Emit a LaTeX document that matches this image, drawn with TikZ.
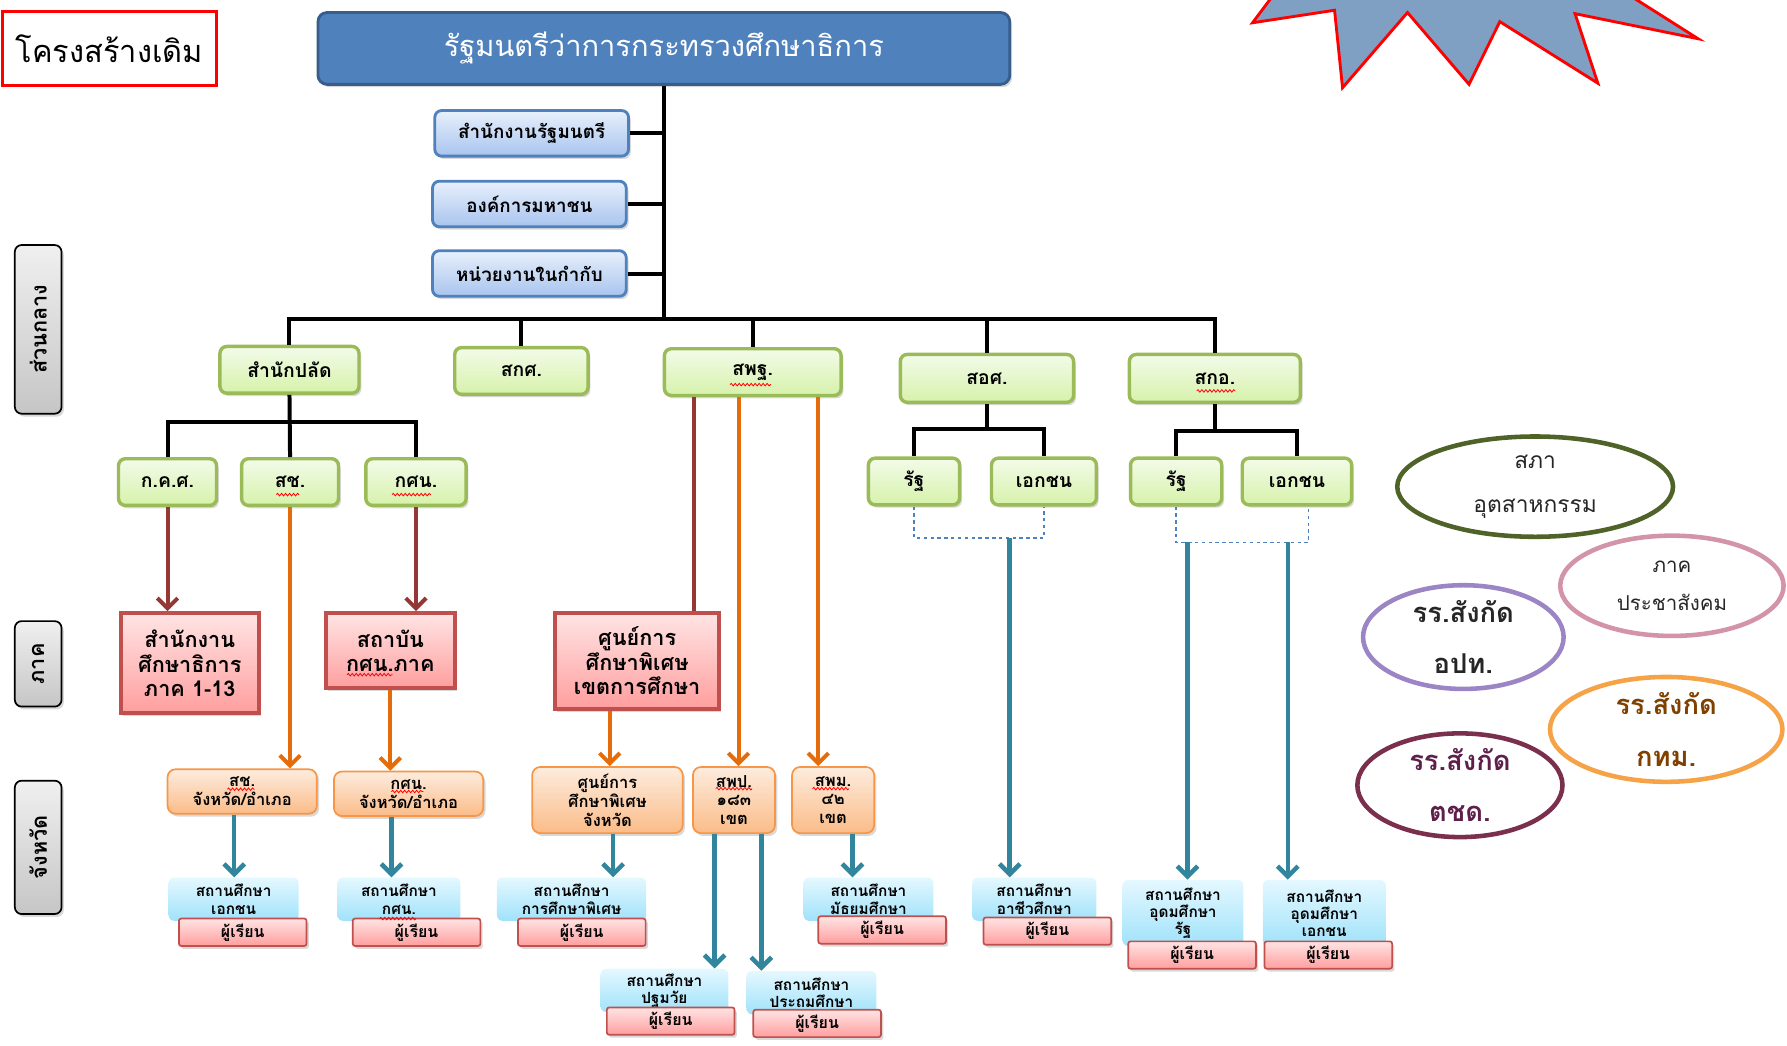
\documentclass[tikz,border=0pt]{standalone}
\usepackage{fontspec}
\setmainfont[Script=Thai]{Loma}
\usepackage{tikz}
\definecolor{boardblue}{RGB}{79,129,189}
\definecolor{boardedge}{RGB}{56,93,138}
\definecolor{paleblue}{RGB}{232,240,252}
\definecolor{midblue}{RGB}{168,196,238}
\definecolor{leafgreen}{RGB}{155,187,89}
\definecolor{leaftop}{RGB}{243,251,233}
\definecolor{leafbot}{RGB}{214,242,170}
\definecolor{brickred}{RGB}{192,80,77}
\definecolor{rosetop}{RGB}{255,228,228}
\definecolor{rosebot}{RGB}{255,158,158}
\definecolor{peachedge}{RGB}{247,150,70}
\definecolor{peachtop}{RGB}{253,236,222}
\definecolor{peachbot}{RGB}{251,188,136}
\definecolor{skytop}{RGB}{228,248,255}
\definecolor{skybot}{RGB}{160,226,250}
\definecolor{wine}{RGB}{149,55,53}
\definecolor{carrot}{RGB}{228,108,10}
\definecolor{petrol}{RGB}{49,133,156}
\definecolor{mossgreen}{RGB}{79,98,40}
\definecolor{mauve}{RGB}{211,148,168}
\definecolor{lilac}{RGB}{156,133,196}
\definecolor{apricot}{RGB}{246,163,72}
\definecolor{plum}{RGB}{122,47,76}
\definecolor{plumtext}{RGB}{94,31,75}
\definecolor{rusty}{RGB}{127,64,0}
\definecolor{starblue}{RGB}{127,159,195}
\usetikzlibrary{arrows.meta,shapes.geometric,shadows,decorations.pathmorphing}

\begin{document}
\begin{tikzpicture}[x=1pt, y=-1pt,
    >={Straight Barb[length=9pt,width=18pt]},   %Pfeilspitzen
    boxshadow/.style={drop shadow={opacity=.3,shadow xshift=2pt,shadow yshift=-2.5pt}},
    titlebox/.style={draw=red, line width=2.5pt, minimum width=188, minimum height=65, font=\fontsize{27}{29}\selectfont},
    chief/.style={boxshadow, draw=boardedge, line width=2.5pt, fill=boardblue, rounded corners=8pt, text=white, minimum width=607, minimum height=63, font=\fontsize{25.5}{27}\selectfont},
    bluebox/.style={boxshadow, draw=boardblue, line width=2.5pt, top color=paleblue, bottom color=midblue, rounded corners=6pt, minimum width=170, minimum height=40, font=\bfseries\fontsize{16.5}{18}\selectfont},
    greenbox/.style={boxshadow, draw=leafgreen, line width=3pt, top color=leaftop, bottom color=leafbot, rounded corners=6pt, minimum height=41, font=\bfseries\fontsize{17}{19}\selectfont},
    redbox/.style={boxshadow, draw=brickred, line width=3.5pt, top color=rosetop, bottom color=rosebot, align=center, font=\bfseries\fontsize{19}{21.5}\selectfont},
    orangebox/.style={boxshadow, draw=peachedge, line width=1.5pt, top color=peachtop, bottom color=peachbot, rounded corners=7pt, align=center, inner sep=0pt, font=\bfseries\fontsize{14.5}{16.5}\selectfont},
    schoolbox/.style={top color=skytop, bottom color=skybot, rounded corners=5pt, align=center, inner sep=0pt, font=\bfseries\fontsize{13.5}{15}\selectfont},
    learner/.style={boxshadow, draw=brickred, line width=1.5pt, top color=rosetop, bottom color=rosebot, rounded corners=2pt, minimum width=112, minimum height=24, inner sep=0pt, font=\bfseries\fontsize{14}{15}\selectfont},
    sidebox/.style={boxshadow, draw=black, line width=1.5pt, top color=gray!12, bottom color=gray!45, rounded corners=6pt, rotate=90, minimum height=41, font=\bfseries\fontsize{19}{20}\selectfont},
    oval/.style={ellipse, line width=4pt, align=center, inner sep=0pt, text=black!85},
    orgline/.style={line width=3.5pt},
    redarrow/.style={->, wine, line width=3.5pt},
    redline/.style={wine, line width=3.5pt},
    orangearrow/.style={->, carrot, line width=3.5pt},
    tealarrow/.style={->, petrol, line width=4pt},
    dashlink/.style={dashed, boardblue, line width=1.2pt},
    spellwave/.style={red, line width=.7pt, decorate, decoration={snake, amplitude=1.1pt, segment length=3.5pt}}]
  %Bildbereich
  \useasboundingbox (0,0) rectangle (1568,917);
  %Stern oben rechts
  \fill[starblue] (1117,-4) -- (1099,20) -- (1171,9) -- (1178,77) -- (1235,11) -- (1289,74) -- (1316,19) -- (1402,73) -- (1382,12) -- (1490,34) -- (1430,-4) -- cycle;
  \draw[red, line width=2.5pt] (1117,-4) -- (1099,20) -- (1171,9) -- (1178,77) -- (1235,11) -- (1289,74) -- (1316,19) -- (1402,73) -- (1382,12) -- (1490,34) -- (1430,-4);
  %Titel und Minister
  \node[titlebox] (title) at (96,42.5) {โครงสร้างเดิม};
  \node[chief] (minister) at (582.5,42.5) {รัฐมนตรีว่าการกระทรวงศึกษาธิการ};
  \node[bluebox] (office) at (466.5,117) {สำนักงานรัฐมนตรี};
  \node[bluebox] (publicorg) at (464.5,179) {องค์การมหาชน};
  \node[bluebox] (supervised) at (464.5,240) {หน่วยงานในกำกับ};
  \coordinate (bar) at (582.5,280);
  \draw[orgline] (minister.south) -- (bar);
  \foreach \n in {office,publicorg,supervised} \draw[orgline] (\n.east) -- (\n.east -| bar);
  %Ebenen links
  \node[sidebox, minimum width=148] (central) at (33.5,289) {ส่วนกลาง};
  \node[sidebox, minimum width=75] (regional) at (33.5,582.5) {ภาค};
  \node[sidebox, minimum width=117] (provincial) at (33.5,743.5) {จังหวัด};
  %Ebene 1
  \node[greenbox, minimum width=122] (opsec) at (254,324.5) {สำนักปลัด};
  \node[greenbox, minimum width=117] (onec) at (457.5,325.5) {สกศ.};
  \node[greenbox, minimum width=155] (obec) at (660.5,326.5) {สพฐ.};
  \node[greenbox, minimum width=152, minimum height=42] (ovec) at (866,332) {สอศ.};
  \node[greenbox, minimum width=150, minimum height=42] (ohec) at (1066,332) {สกอ.};
  \draw[orgline] (opsec.north) |- (bar) -| (ohec.north);
  \foreach \n in {onec,obec,ovec} \draw[orgline] (\n.north |- bar) -- (\n.north);
  %Ebene 2
  \node[greenbox, minimum width=86] (tcs) at (147,423) {ก.ค.ศ.};
  \node[greenbox, minimum width=85] (opec) at (254.5,423) {สช.};
  \node[greenbox, minimum width=88] (nfe) at (365,423) {กศน.};
  \node[greenbox, minimum width=80] (vecgov) at (802,422.5) {รัฐ};
  \node[greenbox, minimum width=92] (vecpriv) at (916,422.5) {เอกชน};
  \node[greenbox, minimum width=80] (hegov) at (1032,422.5) {รัฐ};
  \node[greenbox, minimum width=96] (hepriv) at (1138,422.5) {เอกชน};
  \coordinate (bar2) at (254,370);
  \coordinate (bar3) at (866,376);
  \coordinate (bar4) at (1066,378);
  \draw[orgline] (opsec.south) -- (opec.north);
  \draw[orgline] (tcs.north) |- (bar2) -| (nfe.north);
  \draw[orgline] (ovec.south) -- (bar3);
  \draw[orgline] (vecgov.north) |- (bar3) -| (vecpriv.north);
  \draw[orgline] (ohec.south) -- (bar4);
  \draw[orgline] (hegov.north) |- (bar4) -| (hepriv.north);
  %gestrichelte Klammern
  \coordinate (vecjoin) at (886,472);
  \coordinate (hejoin) at (1042,476);
  \coordinate (hejoin2) at (1130,476);
  \draw[dashlink] (vecgov.south) |- (vecjoin) -| (vecpriv.south);
  \draw[dashlink] (hegov.south) |- (hejoin2) -| ([xshift=10pt]hepriv.south);
  %Ebene Region
  \node[redbox, minimum width=121, minimum height=88] (regoffice) at (166.5,582) {สำนักงาน\\ศึกษาธิการ\\ภาค 1-13};
  \node[redbox, minimum width=113, minimum height=66] (nferegion) at (342.5,571) {สถาบัน\\กศน.ภาค};
  \node[redbox, minimum width=144, minimum height=84] (specregion) at (559,580) {ศูนย์การ\\ศึกษาพิเศษ\\เขตการศึกษา};
  \draw[redarrow] (tcs.south) -- (tcs.south |- regoffice.north);
  \draw[redarrow] (nfe.south) -- (nfe.south |- nferegion.north);
  \draw[redline] ([xshift=-51.5pt]obec.south) -- ([xshift=-51.5pt]obec.south |- specregion.north);
  %Ebene Provinz
  \node[orangebox, minimum width=131, minimum height=39] (opecprov) at (212.5,694.5) {สช.\\จังหวัด/อำเภอ};
  \node[orangebox, minimum width=131, minimum height=39] (nfeprov) at (358.5,696.5) {กศน.\\จังหวัด/อำเภอ};
  \node[orangebox, minimum width=132, minimum height=58] (specprov) at (533,702) {ศูนย์การ\\ศึกษาพิเศษ\\จังหวัด};
  \node[orangebox, minimum width=72, minimum height=58] (pesa) at (644,702) {สพป.\\๑๘๓\\เขต};
  \node[orangebox, minimum width=72, minimum height=58] (sesa) at (731,702) {สพม.\\๔๒\\เขต};
  \draw[orangearrow] (opec.south) -- (opec.south |- opecprov.north);
  \draw[orangearrow] (nferegion.south) -- (nferegion.south |- nfeprov.north);
  \draw[orangearrow] ([xshift=-24pt]specregion.south) -- ([xshift=-24pt]specregion.south |- specprov.north);
  \draw[orangearrow] ([xshift=-12.5pt]obec.south) -- ([xshift=-12.5pt]obec.south |- pesa.north);
  \draw[orangearrow] ([xshift=57.5pt]obec.south) -- ([xshift=57.5pt]obec.south |- sesa.north);
  %Schulen
  \node[schoolbox, minimum width=114, minimum height=38] (sprivate) at (205,789) {สถานศึกษา\\เอกชน};
  \node[schoolbox, minimum width=108, minimum height=38] (snfe) at (350,789) {สถานศึกษา\\กศน.};
  \node[schoolbox, minimum width=131, minimum height=38] (sspecial) at (501.5,789) {สถานศึกษา\\การศึกษาพิเศษ};
  \node[schoolbox, minimum width=112, minimum height=38] (searly) at (583,869) {สถานศึกษา\\ปฐมวัย};
  \node[schoolbox, minimum width=114, minimum height=38] (sprimary) at (712,871) {สถานศึกษา\\ประถมศึกษา};
  \node[schoolbox, minimum width=114, minimum height=38] (ssecond) at (762,789) {สถานศึกษา\\มัธยมศึกษา};
  \node[schoolbox, minimum width=109, minimum height=38] (svoc) at (907.5,789) {สถานศึกษา\\อาชีวศึกษา};
  \node[schoolbox, minimum width=106, minimum height=58] (shegov) at (1038,801) {สถานศึกษา\\อุดมศึกษา\\รัฐ};
  \node[schoolbox, minimum width=108, minimum height=58] (shepriv) at (1162,801) {สถานศึกษา\\อุดมศึกษา\\เอกชน};
  \foreach \n/\x/\y in {a/213/818, b/365.5/818, c/510.5/818, d/588.5/896, e/717/898, f/774/816, g/919/817, h/1046/838, i/1165.5/838}
    \node[learner] (learn\n) at (\x,\y) {ผู้เรียน};
  \draw[tealarrow] ([xshift=-7pt]opecprov.south) -- ([xshift=-7pt]opecprov.south |- sprivate.north);
  \draw[tealarrow] ([xshift=-15pt]nfeprov.south) -- ([xshift=-15pt]nfeprov.south |- snfe.north);
  \draw[tealarrow] ([xshift=5pt]specprov.south) -- ([xshift=5pt]specprov.south |- sspecial.north);
  \draw[tealarrow] ([xshift=-17pt]pesa.south) -- ([xshift=-17pt]pesa.south |- searly.north);
  \draw[tealarrow] ([xshift=24pt]pesa.south) -- ([xshift=24pt]pesa.south |- sprimary.north);
  \draw[tealarrow] ([xshift=17pt]sesa.south) -- ([xshift=17pt]sesa.south |- ssecond.north);
  \draw[tealarrow] (vecjoin) -- (vecjoin |- svoc.north);
  \draw[tealarrow] (hejoin) -- (hejoin |- shegov.north);
  \draw[tealarrow] (hejoin2) -- (hejoin2 |- shepriv.north);
  %Ellipsen rechts
  \node[oval, draw=mossgreen, minimum width=242, minimum height=88, font=\fontsize{20}{38}\selectfont] (industry) at (1347,427) {สภา\\อุตสาหกรรม};
  \node[oval, draw=mauve, minimum width=196, minimum height=88, font=\fontsize{18}{33}\selectfont] (civil) at (1467,514) {ภาค\\ประชาสังคม};
  \node[oval, draw=lilac, minimum width=176, minimum height=88, font=\bfseries\fontsize{24}{45}\selectfont] (localgov) at (1284,559) {รร.สังกัด\\อปท.};
  \node[oval, draw=apricot, minimum width=204, minimum height=92, text=rusty, font=\bfseries\fontsize{24}{45}\selectfont] (bangkok) at (1462,640) {รร.สังกัด\\กทม.};
  \node[oval, draw=plum, minimum width=180, minimum height=88, text=plumtext, font=\bfseries\fontsize{24}{45}\selectfont] (border) at (1281,689) {รร.สังกัด\\ตชด.};
  %Rechtschreibwellen
  \foreach \n/\dx/\dy/\w in {obec/-20/11/36, ohec/-16/11/34, opec/-12/11/20, nfe/-21/11/34, nferegion/-38/21/40, opecprov/-13/-2/24, nfeprov/-15/-2/28, pesa/-16/-10/32, sesa/-18/-10/32, snfe/-17/17/32}
    \draw[spellwave] ([shift={(\dx,\dy)}]\n.center) -- ++(\w,0);
\end{tikzpicture}
\end{document}
